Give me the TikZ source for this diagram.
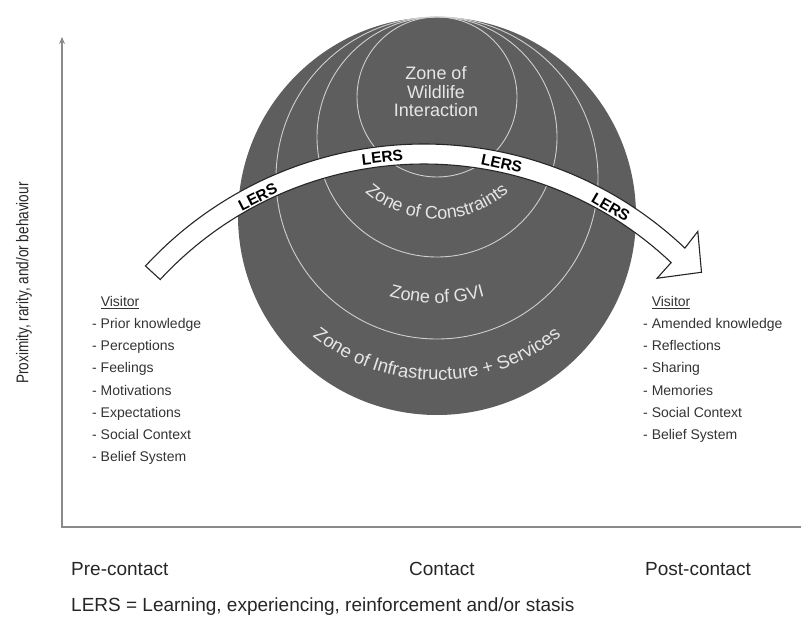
\documentclass[tikz,border=0pt]{standalone}
\usepackage{fontspec}
\setmainfont{Liberation Sans}
\usetikzlibrary{calc,arrows.meta,decorations.text}
\definecolor{zonefill}{HTML}{5E5E5E}
\definecolor{zoneline}{HTML}{CFCFCF}
\definecolor{zonetext}{HTML}{E6E6E6}
\definecolor{axisgray}{HTML}{8A8A8A}
\definecolor{listgray}{HTML}{333333}
\newcommand{\zonefont}{\fontsize{18}{18.5}\selectfont}

\begin{document}
\begin{tikzpicture}[x=1pt,y=1pt,
	zone/.style={shape=circle,draw=zoneline,line width=0.9pt,inner sep=0pt},
	zonelabel/.style={text=zonetext,font=\zonefont,align=center},
	band/.style={draw=black!85,line width=1.1pt,fill=white},
	lers/.style={font=\fontsize{15.5}{15.5}\selectfont\bfseries,inner sep=0pt},
	visitor/.style={anchor=north west,align=left,text=listgray,inner sep=0pt,font=\fontsize{14}{22.2}\selectfont},
	phase/.style={anchor=west,inner sep=0pt,text=black!85,font=\fontsize{19}{19}\selectfont},
	axis/.style={draw=axisgray,line width=1.6pt}]
	\useasboundingbox (0,0) rectangle (802,622);

	\node[shape=circle,fill=zonefill,minimum size=398pt,inner sep=0pt] (infra) at (437,406) {};
	\node[zone,minimum size=322pt] (gvi) at (437,444) {};
	\node[zone,minimum size=240pt] (constraints) at (437,485) {};
	\node[zone,minimum size=160pt] (wildlife) at (437,525) {};

	\node[zonelabel] (wildlifetext) at (436,530) {Zone of\\Wildlife\\Interaction};
	\path[decorate,decoration={text along path,text align=center,text color=zonetext,text={|\zonefont|Zone of Constraints}}] ($(437,512)+(200:109)$) arc[start angle=200,end angle=340,radius=109];
	\path[decorate,decoration={text along path,text align=center,text color=zonetext,text={|\zonefont|Zone of GVI}}] ($(437,492)+(240:173)$) arc[start angle=240,end angle=300,radius=173];
	\path[decorate,decoration={text along path,text align=center,text color=zonetext,text={|\fontsize{18.5}{19}\selectfont|Zone of Infrastructure + Services}}] ($(437,441)+(210:199)$) arc[start angle=210,end angle=330,radius=199];

	% LERS band
	\coordinate (A) at (424,99);
	\draw[band] ($(A)+(137.3:379)$) arc[start angle=137.3,end angle=46.5,radius=379]
		-- ($(A)+(46.8:400)$) -- ($(A)+(42.1:374)$) -- ($(A)+(46.4:338)$) -- ($(A)+(46.5:359)$)
		arc[start angle=46.5,end angle=137.3,radius=359] -- cycle;
	\node[lers,rotate=27] (lers1) at ($(A)+(117:366)$) {LERS};
	\node[lers,rotate=6.5] (lers2) at ($(A)+(96.5:368)$) {LERS};
	\node[lers,rotate=-12.2] (lers3) at ($(A)+(77.8:368)$) {LERS};
	\node[lers,rotate=-30.6] (lers4) at ($(A)+(59.4:367)$) {LERS};

	\node[visitor] (before) at (92,326) {\phantom{-\ }\underline{Visitor}\\- Prior knowledge\\- Perceptions\\- Feelings\\- Motivations\\- Expectations\\- Social Context\\- Belief System};
	\node[visitor] (after) at (643,326) {\phantom{-\ }\underline{Visitor}\\- Amended knowledge\\- Reflections\\- Sharing\\- Memories\\- Social Context\\- Belief System};

	% axes
	\coordinate (origin) at (62,95);
	\coordinate (ytop) at (62,585);
	\coordinate (xend) at (801,95);
	\draw[axis,-{Stealth[length=7pt,width=6pt]}] (xend) -- (origin) -- (ytop);
	\node[rotate=90,inner sep=0pt,text=black!85,font=\fontsize{17}{17}\selectfont] (ylabel) at (24,339) {\scalebox{0.8}[1]{Proximity, rarity, and/or behaviour}};

	\node[phase] (pre) at (71,53) {Pre-contact};
	\node[phase] (contact) at (409,53) {Contact};
	\node[phase] (post) at (645,53) {Post-contact};
	\node[phase] (legend) at (71,15) {LERS = Learning, experiencing, reinforcement and/or stasis};
\end{tikzpicture}
\end{document}
